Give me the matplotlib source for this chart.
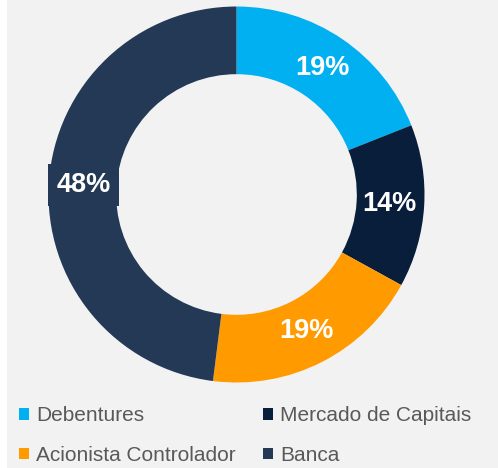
import matplotlib.pyplot as plt
from matplotlib.patches import Rectangle

# Data
labels = ["Debentures", "Mercado de Capitais", "Acionista Controlador", "Banca"]
values = [19, 14, 19, 48]
colors = ["#00b0f0", "#081e3a", "#ff9a00", "#233956"]

plt.rcParams['font.family'] = ['Liberation Sans', 'DejaVu Sans']

fig = plt.figure(figsize=(4.98, 4.68), dpi=100, facecolor="#f2f2f2")
# small white strip on the left edge
fig.patches.append(Rectangle((0, 0), 7 / 498, 1, transform=fig.transFigure,
                             facecolor="white", edgecolor="none", zorder=0))

ax = fig.add_axes([0.0974, 0.1827, 0.755, 0.8034])
ax.set_facecolor("none")

wedges, texts, autotexts = ax.pie(
    values, colors=colors, startangle=90, counterclock=False, radius=1.0,
    wedgeprops=dict(width=0.36, edgecolor="none"),
    autopct=lambda p: f"{p:.0f}%", pctdistance=0.815,
)
for t in autotexts:
    t.set_color("white")
    t.set_fontsize(19.5)
    t.set_fontweight("bold")
# the Banca label sits on a box that sticks out of the ring
autotexts[3].set_bbox(dict(facecolor=colors[3], edgecolor="none", boxstyle="square,pad=0.3"))

ax.set_xlim(-1, 1)
ax.set_ylim(-1, 1)
ax.set_aspect("equal")
ax.axis("off")

# legend: column 1 = Debentures, Acionista; column 2 = Mercado, Banca
order = [0, 2, 1, 3]
leg = fig.legend([wedges[i] for i in order], [labels[i] for i in order],
                 ncol=2, loc="upper left", bbox_to_anchor=(19 / 498, 1 - 406 / 468),
                 frameon=False, fontsize=15, handlelength=0.5, handleheight=0.5,
                 handletextpad=0.32, columnspacing=1.3, labelspacing=1.0,
                 borderpad=0, borderaxespad=0)
for txt in leg.get_texts():
    txt.set_color("#595959")

fig.savefig("out.png", dpi=100, facecolor=fig.get_facecolor())
